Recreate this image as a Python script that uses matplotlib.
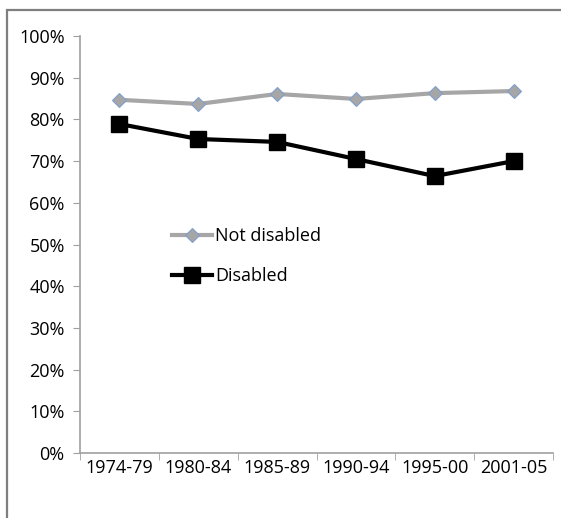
import matplotlib.pyplot as plt
from matplotlib.patches import Rectangle
import numpy as np

# periods and share of people (%) per group
periods = ['1974-79', '1980-84', '1985-89', '1990-94', '1995-00', '2001-05']
not_disabled = [84.7, 83.7, 86.1, 84.9, 86.3, 86.8]
disabled = [78.9, 75.3, 74.6, 70.5, 66.4, 70.0]

plt.rcParams['font.family'] = ['Open Sans', 'DejaVu Sans']

W, H = 561, 518
fig = plt.figure(figsize=(W / 100, H / 100), dpi=100)

# outer chart frame (only top/left visible in the original)
fig.patches.append(Rectangle((7 / W, -0.1), 1.2, (H - 10) / H + 0.1,
                             transform=fig.transFigure, fill=False,
                             edgecolor='#7f7f7f', lw=1.6))

ax = fig.add_axes([80 / W, (H - 453) / H, (553 - 80) / W, (453 - 36) / H])

x = np.arange(len(periods))
ax.plot(x, not_disabled, color='#a6a6a6', lw=3, marker='D', ms=7,
        mfc='#a6a6a6', mec='#7f9fcf', mew=0.8, label='Not disabled')
ax.plot(x, disabled, color='black', lw=3, marker='s', ms=11,
        mfc='black', mec='black', label='Disabled')

ax.set_xlim(-0.5, len(periods) - 0.5)
ax.set_ylim(0, 100)
ax.set_yticks(np.arange(0, 101, 10))
ax.set_yticklabels([f'{v}%' for v in range(0, 101, 10)], fontsize=13)
ax.set_xticks(x)
ax.set_xticklabels(periods, fontsize=13)
ax.set_xticks(np.arange(-0.5, len(periods), 1), minor=True)
ax.tick_params(axis='x', which='major', length=0, pad=4)
ax.tick_params(axis='x', which='minor', length=5, color='#a0a0a0')
ax.tick_params(axis='y', length=5, color='#a0a0a0', pad=6)

for s in ['top', 'right']:
    ax.spines[s].set_visible(False)
for s in ['left', 'bottom']:
    ax.spines[s].set_color('#a0a0a0')
    ax.spines[s].set_linewidth(1.2)

ax.legend(loc='upper left', bbox_to_anchor=(0.16, 0.58), frameon=False,
          fontsize=13, handlelength=2.2, handletextpad=0.2, labelspacing=1.2)

fig.savefig('out.png', dpi=100)
